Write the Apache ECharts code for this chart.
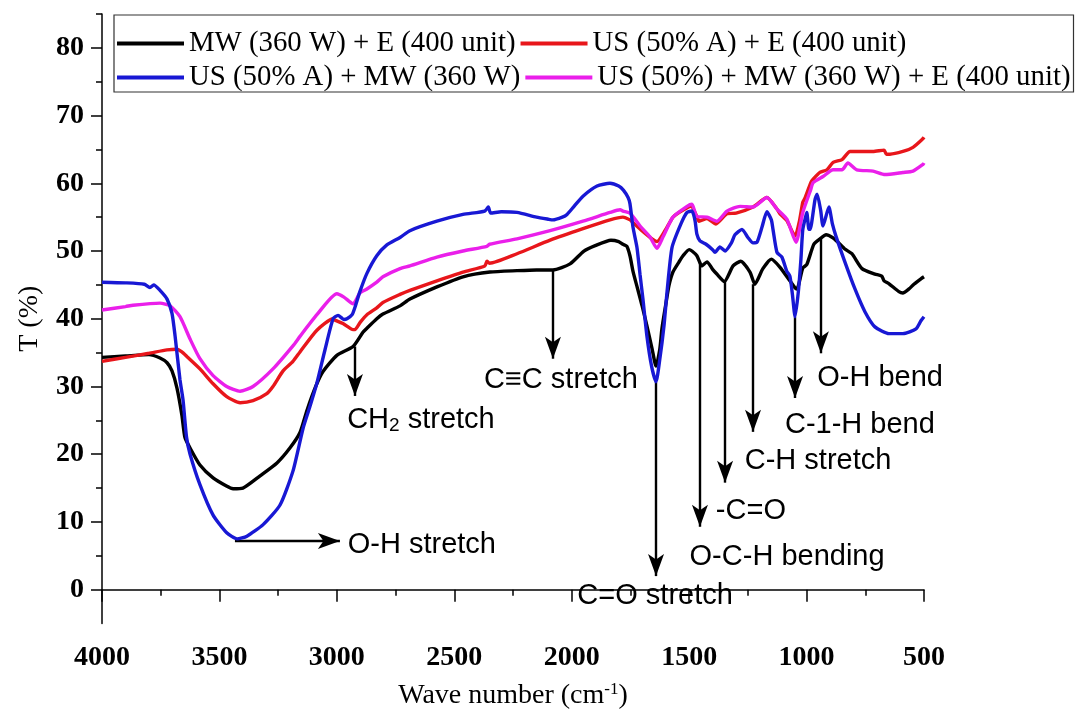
<!DOCTYPE html>
<html>
<head>
<meta charset="utf-8">
<script src="https://cdn.jsdelivr.net/npm/echarts@6/dist/echarts.min.js"></script>
<style>
  html, body { margin: 0; padding: 0; background: #fff; }
  #main { width: 1085px; height: 715px; }
</style>
</head>
<body>
<div id="main"></div>
<script>
// [wave number, T %]
let blackPts = [
    [4000, 34.3], [3900, 34.5], [3800, 34.7], [3753, 34.2], [3723, 33.5], [3702, 32.3],
    [3681, 29.8], [3660, 25.8], [3647, 22.5], [3625, 20.9], [3583, 18.4], [3527, 16.5],
    [3470, 15.3], [3442, 14.9], [3400, 15.0], [3327, 16.8], [3255, 18.7], [3200, 20.9],
    [3157, 23.2], [3127, 26.5], [3090, 30.0], [3059, 32.2], [3000, 34.6], [2931, 35.9],
    [2889, 38.0], [2872, 38.6], [2830, 40.0], [2804, 40.7], [2731, 41.9], [2689, 42.9],
    [2574, 44.7], [2463, 46.2], [2348, 46.9], [2233, 47.1], [2150, 47.2], [2080, 47.2],
    [2007, 48.1], [1948, 50.0], [1900, 50.8], [1833, 51.6], [1800, 51.4], [1782, 51.0],
    [1765, 50.7], [1752, 49.3], [1739, 47.0], [1720, 44.5], [1701, 42.0], [1680, 39.0],
    [1658, 35.6], [1641, 33.0], [1625, 35.5], [1616, 38.5], [1600, 42.0], [1586, 44.9],
    [1569, 46.9], [1543, 48.4], [1526, 49.3], [1500, 50.2], [1488, 50.0], [1467, 49.3],
    [1446, 47.8], [1424, 48.4], [1400, 47.3], [1382, 46.6], [1350, 45.5], [1313, 47.8],
    [1280, 48.5], [1241, 46.9], [1220, 45.1], [1186, 47.4], [1150, 48.8], [1113, 47.6],
    [1071, 45.6], [1050, 44.6], [1041, 44.4], [1016, 47.5], [999, 48.0], [969, 51.0],
    [943, 51.8], [917, 52.4], [890, 52.0], [866, 51.3], [837, 50.3], [807, 49.6],
    [764, 47.4], [709, 46.6], [680, 46.3], [670, 45.6], [650, 45.2], [607, 44.0],
    [590, 43.8], [564, 44.4], [543, 45.1], [513, 45.9], [500, 46.2]
];
let redPts = [
    [4000, 33.7], [3900, 34.3], [3800, 34.9], [3723, 35.4], [3681, 35.5], [3660, 35.1],
    [3638, 34.4], [3583, 32.6], [3527, 30.4], [3469, 28.5], [3412, 27.6], [3357, 27.9],
    [3300, 28.9], [3272, 30.0], [3229, 32.3], [3187, 33.7], [3157, 35.1], [3085, 38.3],
    [3016, 40.0], [3008, 39.8], [2974, 39.3], [2931, 38.4], [2923, 38.4], [2900, 39.5],
    [2872, 40.6], [2830, 41.6], [2804, 42.4], [2731, 43.6], [2689, 44.2], [2574, 45.6],
    [2463, 46.9], [2370, 47.8], [2361, 48.5], [2350, 48.2], [2233, 49.6], [2092, 51.6],
    [1952, 53.3], [1837, 54.6], [1782, 55.0], [1752, 54.6], [1739, 54.2], [1701, 53.0],
    [1658, 51.8], [1637, 51.4], [1603, 53.0], [1569, 55.0], [1543, 55.7], [1492, 56.6],
    [1467, 55.1], [1458, 54.4], [1424, 54.8], [1386, 54.0], [1339, 55.5], [1300, 55.6],
    [1228, 56.5], [1169, 57.9], [1126, 56.2], [1113, 55.5], [1084, 54.5], [1049, 52.2],
    [1030, 54.5], [1016, 57.2], [1007, 57.8], [982, 60.1], [972, 60.6], [943, 61.6],
    [913, 62.0], [887, 63.1], [849, 63.5], [815, 64.7], [773, 64.7], [717, 64.7],
    [670, 64.9], [660, 64.3], [645, 64.3], [590, 64.7], [547, 65.3], [504, 66.6], [500, 66.8]
];
let bluePts = [
    [4000, 45.4], [3900, 45.3], [3820, 45.1], [3796, 44.6], [3780, 45.0], [3753, 44.2],
    [3723, 42.9], [3702, 40.8], [3689, 37.5], [3668, 31.0], [3655, 28.0], [3640, 22.5],
    [3625, 20.0], [3583, 15.5], [3527, 11.0], [3469, 8.4], [3425, 7.5], [3383, 7.9],
    [3314, 9.6], [3242, 12.5], [3187, 17.5], [3144, 23.8], [3115, 27.0], [3085, 30.5],
    [3050, 35.5], [3016, 40.0], [2995, 40.5], [2970, 39.9], [2957, 40.0], [2935, 40.6],
    [2920, 42.0], [2902, 44.0], [2872, 46.7], [2830, 49.3], [2787, 50.9], [2731, 52.0],
    [2689, 53.0], [2574, 54.4], [2463, 55.4], [2370, 55.9], [2355, 56.5], [2345, 55.6],
    [2300, 55.8], [2233, 55.7], [2150, 55.0], [2100, 54.7], [2080, 54.6], [2040, 55.0],
    [2020, 55.4], [1990, 56.6], [1952, 58.1], [1892, 59.6], [1837, 60.0], [1800, 59.6],
    [1780, 59.0], [1760, 57.9], [1752, 57.0], [1739, 53.5], [1722, 50.5], [1709, 46.5],
    [1697, 43.0], [1680, 37.5], [1660, 33.0], [1641, 30.7], [1625, 34.0], [1607, 39.0],
    [1594, 44.0], [1573, 50.5], [1535, 54.0], [1509, 55.7], [1488, 55.9], [1475, 54.5],
    [1467, 52.5], [1454, 51.5], [1428, 51.0], [1400, 50.2], [1390, 49.8], [1369, 50.6],
    [1347, 50.0], [1320, 51.2], [1305, 52.4], [1275, 53.2], [1250, 52.0], [1228, 51.2],
    [1211, 51.3], [1190, 53.5], [1169, 55.8], [1150, 54.6], [1143, 53.2], [1126, 49.8],
    [1105, 49.1], [1084, 47.0], [1071, 46.3], [1060, 43.5], [1049, 40.3], [1035, 44.0],
    [1024, 48.8], [1016, 53.2], [1003, 55.2], [999, 55.7], [990, 53.2], [985, 53.2],
    [964, 57.6], [955, 58.4], [940, 56.0], [930, 53.7], [905, 56.5], [890, 54.0],
    [875, 52.2], [837, 48.4], [794, 44.4], [751, 41.0], [709, 38.8], [649, 37.8],
    [590, 37.8], [534, 38.5], [513, 39.7], [500, 40.3]
];
let magentaPts = [
    [4000, 41.3], [3900, 41.8], [3868, 42.0], [3753, 42.3], [3710, 41.9], [3668, 40.3],
    [3625, 37.0], [3583, 34.1], [3527, 31.6], [3469, 30.0], [3412, 29.3], [3357, 30.0],
    [3272, 32.6], [3187, 36.0], [3157, 37.4], [3085, 40.6], [3000, 43.7], [2970, 43.2],
    [2931, 42.2], [2902, 43.8], [2872, 44.4], [2830, 45.4], [2804, 46.2], [2731, 47.4],
    [2689, 47.8], [2574, 49.1], [2463, 50.0], [2361, 50.7], [2350, 51.0], [2233, 51.8],
    [2092, 53.0], [1952, 54.4], [1837, 55.7], [1794, 56.1], [1782, 55.9], [1752, 55.6],
    [1709, 53.7], [1667, 52.1], [1637, 50.4], [1611, 52.1], [1569, 55.0], [1509, 56.6],
    [1488, 56.9], [1467, 55.1], [1424, 55.0], [1382, 54.4], [1339, 55.9], [1283, 56.6],
    [1228, 56.5], [1169, 57.9], [1126, 56.2], [1084, 54.7], [1045, 51.3], [1016, 55.7],
    [982, 59.1], [972, 60.1], [930, 61.0], [887, 62.0], [849, 62.0], [824, 63.0],
    [786, 62.0], [717, 61.8], [666, 61.3], [590, 61.6], [547, 61.8], [504, 62.8], [500, 63.0]
];

let seriesNames = [
    'MW (360 W) + E (400 unit)',
    'US (50% A) + E (400 unit)',
    'US (50% A) + MW (360 W)',
    'US (50%) + MW (360 W) + E (400 unit)'
];

let yLabelValues = [0, 10, 20, 30, 40, 50, 60, 70, 80];
let yMinorValues = [5, 15, 25, 35, 45, 55, 65, 75, 85];

// band annotations: arrow start, arrow tip, label text, label centre
let arrowFrom = [[3434, 7.2], [2923, 35.9], [2080, 47.1], [1641, 30.7], [1454, 48.4], [1347, 45.6], [1228, 45.1], [1049, 40.3], [939, 52.0]];
let arrowTo = [[2987, 7.2], [2923, 28.6], [2080, 34.1], [1641, 2.0], [1454, 9.3], [1347, 15.8], [1228, 23.3], [1049, 28.3], [939, 34.9]];
let noteText = ['O-H stretch', '{t|CH}{s|2}{t| stretch}', 'C\u2261C stretch', 'C=O stretch', 'O-C-H bending', '-C=O', 'C-H stretch', 'C-1-H bend', 'O-H bend'];
let notePos = [[2638, 6.6], [2642, 25.1], [2046, 31.0], [1645, -1.0], [1083, 4.8], [1237, 11.6], [951, 19.0], [773, 24.3], [687, 31.3]];

let colors = ['#000000', '#e8161b', '#1818d4', '#ea1fea'];

function lineSeries(name, pts, color, z) {
    return {
        name: name,
        type: 'line',
        data: pts,
        symbol: 'none',
        smooth: 0.2,
        z: z,
        lineStyle: {color: color, width: 3.4},
        itemStyle: {color: color}
    };
}

let notesData = noteText.map((t, i) => ({name: t, value: notePos[i]}));
let arrowData = arrowFrom.map((p, i) => [{coord: p}, {coord: arrowTo[i]}]);

let option = {
    animation: false,
    backgroundColor: '#ffffff',
    grid: {left: 102, right: 161, top: 14, bottom: 89},
    legend: {
        data: seriesNames,
        left: 114,
        top: 15,
        width: 1000,
        padding: [14, 3, 0, 3],
        itemGap: 5,
        itemWidth: 67,
        itemHeight: 4,
        icon: 'rect',
        borderColor: '#333',
        borderWidth: 1.2,
        selectedMode: false,
        textStyle: {fontFamily: 'Liberation Serif', fontSize: 28.8, lineHeight: 24, color: '#000'}
    },
    xAxis: {
        type: 'value',
        inverse: true,
        min: 500,
        max: 4000,
        interval: 500,
        name: '{a|Wave number (cm}{b|-1}{a|)}',
        nameLocation: 'middle',
        nameGap: 58,
        nameTextStyle: {
            rich: {
                a: {fontFamily: 'Liberation Serif', fontSize: 28, color: '#000'},
                b: {fontFamily: 'Liberation Serif', fontSize: 17, color: '#000', verticalAlign: 'top', padding: [0, 0, 12, 0]}
            }
        },
        axisLine: {lineStyle: {color: '#000', width: 1.5}},
        axisTick: {length: 12, lineStyle: {color: '#000', width: 1.5}},
        minorTick: {show: true, splitNumber: 2, length: 6, lineStyle: {color: '#000', width: 1.5}},
        splitLine: {show: false},
        axisLabel: {
            formatter: v => String(v),
            fontFamily: 'Liberation Serif', fontWeight: 'bold', fontSize: 28, color: '#000', margin: 20
        }
    },
    yAxis: [{
        type: 'value',
        min: -5,
        max: 85,
        interval: 5,
        name: 'T (%)',
        nameLocation: 'middle',
        nameGap: 58,
        nameTextStyle: {fontFamily: 'Liberation Serif', fontSize: 28, color: '#000'},
        axisLine: {show: true, lineStyle: {color: '#000', width: 1.5}},
        axisTick: {show: true, length: 11, customValues: yLabelValues, lineStyle: {color: '#000', width: 1.5}},
        splitLine: {show: false},
        axisLabel: {customValues: yLabelValues, fontFamily: 'Liberation Serif', fontWeight: 'bold', fontSize: 28, color: '#000', margin: 18}
    }, {
        type: 'value',
        min: -5,
        max: 85,
        interval: 5,
        position: 'left',
        axisLine: {show: false},
        axisTick: {show: true, length: 6, customValues: yMinorValues, lineStyle: {color: '#000', width: 1.5}},
        axisLabel: {show: false},
        splitLine: {show: false}
    }],
    series: [
        lineSeries(seriesNames[0], blackPts, colors[0], 2),
        lineSeries(seriesNames[1], redPts, colors[1], 3),
        lineSeries(seriesNames[3], magentaPts, colors[3], 4),
        lineSeries(seriesNames[2], bluePts, colors[2], 5),
        {
            name: 'notes',
            type: 'scatter',
            data: notesData,
            symbolSize: 0,
            z: 10,
            itemStyle: {opacity: 1},
            label: {
                show: true,
                position: 'inside',
                formatter: p => p.name,
                fontFamily: 'Liberation Sans',
                fontSize: 29,
                color: '#000',
                rich: {
                    t: {fontFamily: 'Liberation Sans', fontSize: 29, color: '#000', lineHeight: 32},
                    s: {fontFamily: 'Liberation Sans', fontSize: 19, color: '#000', verticalAlign: 'bottom', lineHeight: 32, padding: [15, 0, 0, 0]}
                }
            },
            markLine: {
                silent: true,
                symbol: ['none', 'arrow'],
                symbolSize: [12, 22],
                label: {show: false},
                lineStyle: {color: '#000', width: 2.4, type: 'solid', opacity: 1},
                itemStyle: {color: '#000'},
                data: arrowData
            }
        }
    ]
};

let chart = echarts.init(document.getElementById('main'), null, {renderer: 'canvas'});
chart.setOption(option);
</script>
</body>
</html>
